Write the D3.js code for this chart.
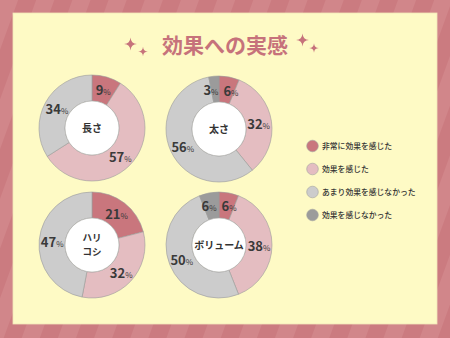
<!DOCTYPE html>
<html><head><meta charset="utf-8">
<script src="https://cdn.jsdelivr.net/npm/d3@7"></script>
<style>html,body{margin:0;padding:0;background:#cc7d82;}svg{display:block;}</style>
</head><body>
<script>
const title = "効果への実感";
const categories = ["長さ", "太さ", "ハリ\nコシ", "ボリューム"];
const seriesNames = ["非常に効果を感じた", "効果を感じた", "あまり効果を感じなかった", "効果を感じなかった"];
const values長さ = [9, 57, 34, 0];
const values太さ = [6, 32, 56, 3];
const valuesハリコシ = [21, 32, 47, 0];
const valuesボリューム = [6, 38, 50, 6];
const allValues = [values長さ, values太さ, valuesハリコシ, valuesボリューム];
const colors = ["#c9767d", "#e4bdc1", "#cccccc", "#9b9b9b"];

const W = 450, H = 338;
const svg = d3.select("body").append("svg").attr("width", W).attr("height", H);
const defs = svg.append("defs");
const pat = defs.append("pattern").attr("id", "stripes").attr("patternUnits", "userSpaceOnUse")
  .attr("width", 34).attr("height", 34).attr("patternTransform", "rotate(20)");
pat.append("rect").attr("width", 34).attr("height", 34).attr("fill", "#cb7b80");
pat.append("rect").attr("width", 17).attr("height", 34).attr("fill", "#d1868a");
svg.append("rect").attr("width", W).attr("height", H).attr("fill", "url(#stripes)");
svg.append("rect").attr("x", 13).attr("y", 13).attr("width", 424).attr("height", 311)
  .attr("fill", "#fefac5").attr("stroke", "#f3e6b8").attr("stroke-width", 0.8);

const font = "'Noto Sans CJK JP', 'Noto Sans', sans-serif";
svg.append("text").attr("x", 225).attr("y", 53).attr("text-anchor", "middle")
  .attr("font-family", font).attr("font-size", 21).attr("font-weight", 700)
  .attr("fill", "#c6727b").text(title);

function sparkle(cx, cy, r) {
  const w = r * 0.2;
  const p = `M${cx},${cy - r} Q${cx + w * 0.3},${cy - w * 0.3} ${cx + r},${cy} Q${cx + w * 0.3},${cy + w * 0.3} ${cx},${cy + r} Q${cx - w * 0.3},${cy + w * 0.3} ${cx - r},${cy} Q${cx - w * 0.3},${cy - w * 0.3} ${cx},${cy - r}Z`;
  svg.append("path").attr("d", p).attr("fill", "#c6727b");
}
sparkle(130.5, 44, 6.5);
sparkle(143, 51.5, 4.8);
sparkle(302.5, 40, 6.5);
sparkle(314, 48, 4.8);

const centers = [[92, 128], [219, 129], [92, 245], [219, 245]];
const rOut = 53, rIn = 27;
const pie = d3.pie().sort(null).value(d => d).startAngle(0).endAngle(2 * Math.PI);
const arc = d3.arc().innerRadius(rIn).outerRadius(rOut);
const labelArc = d3.arc().innerRadius(40).outerRadius(40);

categories.forEach((cat, i) => {
  const g = svg.append("g").attr("transform", `translate(${centers[i][0]},${centers[i][1]})`);
  const arcs = pie(allValues[i]);
  g.selectAll("path.seg").data(arcs).join("path").attr("class", "seg")
    .attr("d", arc).attr("fill", (d, j) => colors[j])
    .attr("stroke", "#9a9a9a").attr("stroke-width", 0.6)
    .style("display", d => d.data > 0 ? null : "none");
  g.append("circle").attr("r", rIn).attr("fill", "#ffffff").attr("stroke", "#aaaaaa").attr("stroke-width", 0.6);

  const shown = arcs.filter(d => d.data > 0);
  const pos = shown.map(d => labelArc.centroid(d));
  const minSep = 20;
  for (let it = 0; it < 5; it++) {
    for (let a = 0; a < pos.length; a++) {
      for (let b = a + 1; b < pos.length; b++) {
        const dx = pos[b][0] - pos[a][0], dy = pos[b][1] - pos[a][1];
        if (Math.abs(dy) < 12 && Math.abs(dx) < minSep) {
          const push = (minSep - Math.abs(dx)) / 2;
          const s = dx >= 0 ? 1 : -1;
          pos[a][0] -= s * push; pos[b][0] += s * push;
        }
      }
    }
  }
  const lbl = g.selectAll("text.val").data(shown).join("text").attr("class", "val")
    .attr("transform", (d, k) => `translate(${pos[k]})`)
    .attr("text-anchor", "middle").attr("dy", "0.36em")
    .attr("font-family", font).attr("fill", "#3a3a3a");
  lbl.append("tspan").attr("font-size", 13).attr("font-weight", 700).text(d => d.data);
  lbl.append("tspan").attr("font-size", 8).attr("font-weight", 400).text("%");
  const lines = cat.split("\n");
  lines.forEach((ln, k) => {
    g.append("text").attr("text-anchor", "middle").attr("font-family", font)
      .attr("font-size", lines.length > 1 ? 9.5 : 10).attr("font-weight", 700).attr("fill", "#333")
      .attr("x", 0).attr("y", (k - (lines.length - 1) / 2) * 14).attr("dy", "0.36em").text(ln);
  });
});

const legY = d3.scalePoint().domain(seriesNames).range([146, 215]);
const leg = svg.append("g");
seriesNames.forEach((s, j) => {
  leg.append("circle").attr("cx", 312.5).attr("cy", legY(s)).attr("r", 5.8)
    .attr("fill", colors[j]).attr("stroke", "#a0a0a0").attr("stroke-width", 0.6);
  leg.append("text").attr("x", 322).attr("y", legY(s)).attr("dy", "0.36em")
    .attr("font-family", font).attr("font-size", 7.8).attr("font-weight", 500)
    .attr("fill", "#333").text(s);
});
</script>
</body></html>
